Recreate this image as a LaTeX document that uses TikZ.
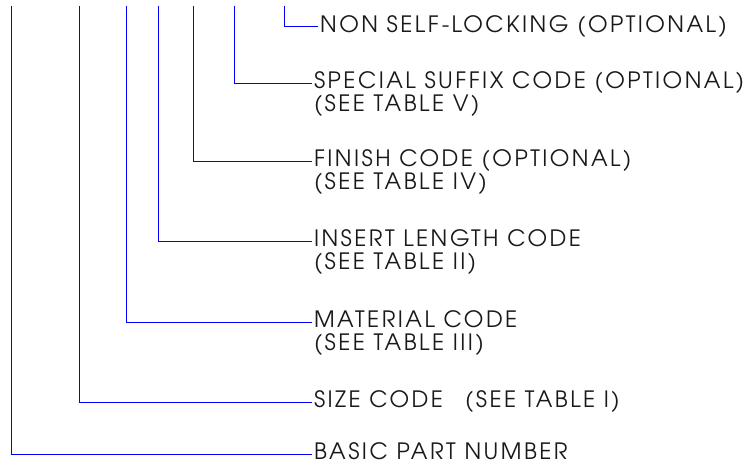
\documentclass[tikz,border=0pt]{standalone}
\usepackage{fontspec}
\setmainfont{TeX Gyre Adventor}[LetterSpace=11]
\begin{document}
\begin{tikzpicture}[x=1pt, y=-1pt,
  lead/.style={blue, line width=1pt},
  lbl/.style={anchor=base west, inner sep=0pt, outer sep=2pt, text height=11pt, text depth=0pt,
    font=\fontsize{22.5}{26}\selectfont, text=black!90}]
  \useasboundingbox (0,0) rectangle (752,464);
  \coordinate (basictop) at (11,6);
  \coordinate (sizetop) at (79,6);
  \coordinate (mattop) at (126,6);
  \coordinate (inserttop) at (158,6);
  \coordinate (finishtop) at (193,6);
  \coordinate (suffixtop) at (234,6);
  \coordinate (locktop) at (284,6);
  \node[lbl] (lock) at (318,32.2) {NON SELF-LOCKING (OPTIONAL)};
  \node[lbl] (suffix) at (312,88.8) {SPECIAL SUFFIX CODE (OPTIONAL)};
  \node[lbl] (suffix2) at (312,111.3) {(SEE TABLE V)};
  \node[lbl] (finish) at (312,166.5) {FINISH CODE (OPTIONAL)};
  \node[lbl] (finish2) at (312,189) {(SEE TABLE IV)};
  \node[lbl] (insert) at (312,246.5) {INSERT LENGTH CODE};
  \node[lbl] (insert2) at (312,269) {(SEE TABLE II)};
  \node[lbl] (mat) at (312,327.5) {MATERIAL CODE};
  \node[lbl] (mat2) at (312,350) {(SEE TABLE III)};
  \node[lbl] (size) at (312,407.5) {SIZE CODE\hspace{0.6em} (SEE TABLE I)};
  \node[lbl] (basic) at (312,459.5) {BASIC PART NUMBER};
  \draw[lead] (locktop) |- (lock.west);
  \draw[lead] (suffixtop) |- (suffix.west);
  \draw[lead] (finishtop) |- (finish.west);
  \draw[lead] (inserttop) |- (insert.west);
  \draw[lead] (mattop) |- (mat.west);
  \draw[lead] (sizetop) |- (size.west);
  \draw[lead] (basictop) |- (basic.west);
\end{tikzpicture}
\end{document}
